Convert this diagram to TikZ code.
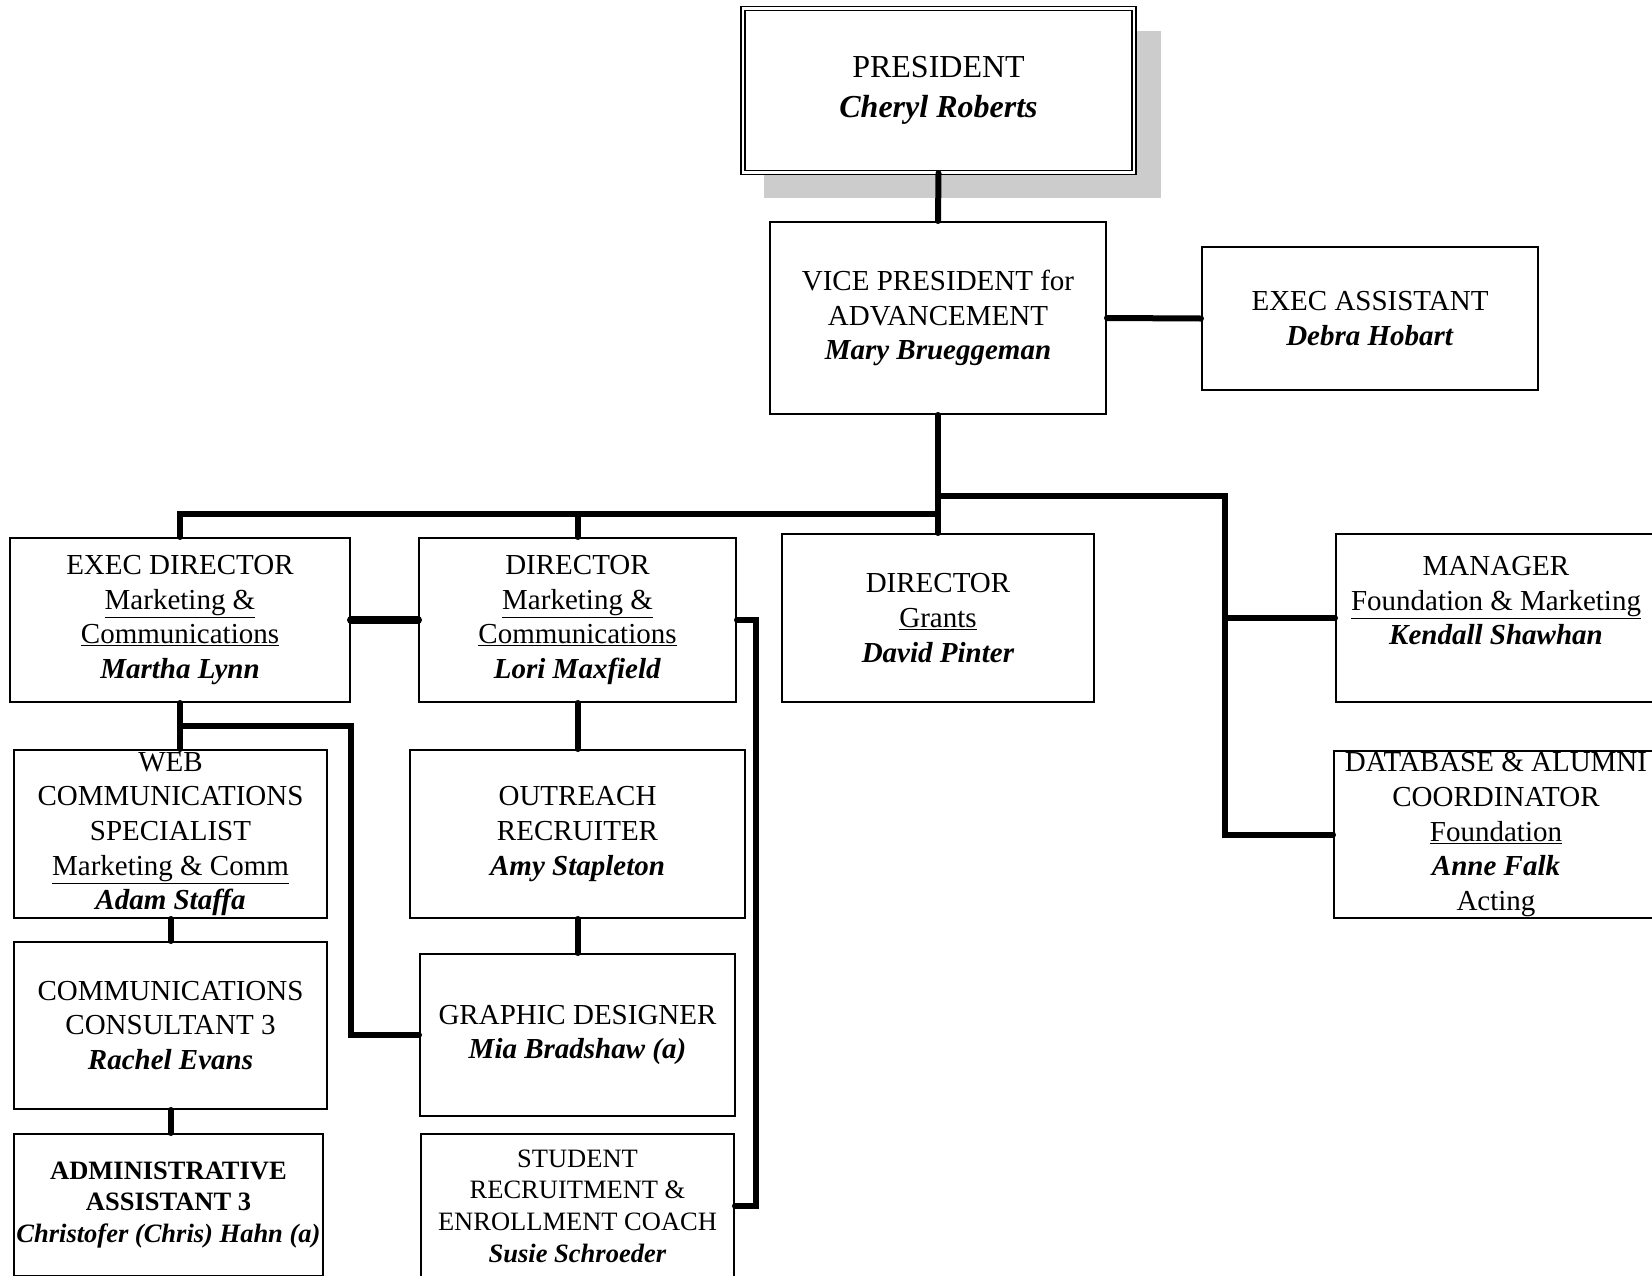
\documentclass[tikz,border=0pt]{standalone}
\usepackage{fontspec}
\setmainfont{Liberation Serif}
\usetikzlibrary{shadows,calc}
\newcommand{\who}[1]{\textbf{\textit{#1}}}
\tikzstyle{post}=[draw,fill=white,line width=2pt,rectangle,align=center,inner sep=0pt,font=\fontsize{29}{34.7}\selectfont]
\tikzstyle{small post}=[post,font=\fontsize{26.5}{31.7}\selectfont]
\tikzstyle{top post}=[post,double,line width=1.5pt,double distance=2.5pt,font=\fontsize{32}{40}\selectfont,
  drop shadow={shadow xshift=23.5pt,shadow yshift=-23.5pt,shadow scale=1.016,fill=black!20,opacity=1}]
\tikzstyle{link}=[draw,line width=6pt,line cap=round]
\tikzstyle{thick link}=[link,line width=8pt]

\begin{document}
\begin{tikzpicture}[x=1pt,y=-1pt]
    \useasboundingbox (0,0) rectangle (1652,1275);
    % Top of the chart
    \node[top post,minimum width=391,minimum height=164] (pres) at (938.5,90.5) {PRESIDENT\\ \who{Cheryl Roberts}};
    \node[post,minimum width=336,minimum height=192] (vp) at (938,318) {VICE PRESIDENT for\\ ADVANCEMENT\\ \who{Mary Brueggeman}};
    \node[post,minimum width=336,minimum height=143] (ea) at (1370,318.5) {EXEC ASSISTANT\\ \who{Debra Hobart}};

    % Second row
    \node[post,minimum width=340,minimum height=164] (execdir) at (180,620) {EXEC DIRECTOR\\ \underline{Marketing \&}\\ \underline{Communications}\\ \who{Martha Lynn}};
    \node[post,minimum width=317,minimum height=164] (dirmc) at (577.5,620) {DIRECTOR\\ \underline{Marketing \&}\\ \underline{Communications}\\ \who{Lori Maxfield}};
    \node[post,minimum width=312,minimum height=168] (grants) at (938,618) {DIRECTOR\\ \underline{Grants}\\ \who{David Pinter}};
    \node[post,minimum width=320,minimum height=168] (manager) at (1496,618) {MANAGER\\ \underline{Foundation \& Marketing}\\ \who{Kendall Shawhan}\\ ~};
    \node[post,minimum width=324,minimum height=167] (database) at (1496,834.5) {DATABASE \& ALUMNI\\ COORDINATOR\\ \underline{Foundation}\\ \who{Anne Falk}\\ Acting};

    % Staff under the directors
    \node[post,minimum width=313,minimum height=168] (web) at (170.5,834) {WEB\\ COMMUNICATIONS\\ SPECIALIST\\ \underline{Marketing \& Comm}\\ \who{Adam Staffa}};
    \node[post,minimum width=313,minimum height=167] (consult) at (170.5,1025.5) {COMMUNICATIONS\\ CONSULTANT 3\\ \who{Rachel Evans}};
    \node[small post,minimum width=309,minimum height=142] (admin) at (168.5,1205) {\textbf{ADMINISTRATIVE}\\ \textbf{ASSISTANT 3}\\ \who{Christofer (Chris) Hahn (a)}};
    \node[post,minimum width=335,minimum height=168] (outreach) at (577.5,834) {OUTREACH\\ RECRUITER\\ \who{Amy Stapleton}};
    \node[post,minimum width=315,minimum height=162] (graphic) at (577.5,1035) {GRAPHIC DESIGNER\\ \who{Mia Bradshaw (a)}};
    \node[small post,minimum width=313,minimum height=144] (coach) at (577.5,1206) {STUDENT\\ RECRUITMENT \&\\ ENROLLMENT COACH\\ \who{Susie Schroeder}};

    % Straight lines between boxes
    \foreach \source/\dest in {pres/vp, vp/grants, dirmc/outreach, outreach/graphic, web/consult}
        \path[link] (\source.south) -- (\dest.north);
    \path[link] (vp.east) -- (ea.west);
    \path[link] (consult.south) -- (consult.south |- admin.north);
    \path[link] (execdir.south) -- (execdir.south |- web.north);
    \path[thick link] (execdir.east) -- (dirmc.west);

    % Bus lines
    \coordinate (bus) at (938,514);
    \coordinate (rbus) at (938,496);
    \coordinate (spine) at (1225,496);
    \path[link] (bus) -| (execdir.north);
    \path[link] (bus) -| (dirmc.north);
    \path[link] (rbus) -- (spine) |- (database.west);
    \path[link] (spine |- manager.west) -- (manager.west);
    \coordinate (br) at ([yshift=-23pt]execdir.south);
    \path[link] (br) -- (br -| execdir.east) |- (graphic.west);
    \path[link] (dirmc.east) -- ([xshift=19pt]dirmc.east) |- (coach.east);
\end{tikzpicture}
\end{document}
